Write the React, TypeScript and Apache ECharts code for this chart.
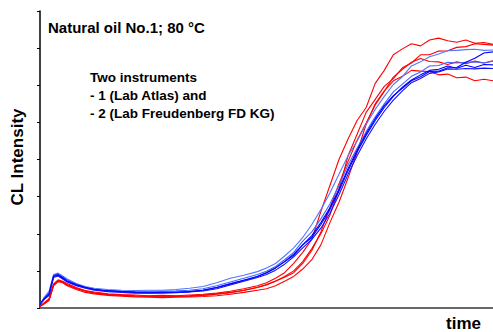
import React, { useEffect, useRef } from "react";
import * as echarts from "echarts";

const time = [0, 1, 2, 3, 4, 5, 6, 8, 10, 12, 15, 18, 21, 24, 27, 30, 33, 36, 39, 42, 45, 48, 50, 52, 54, 56, 58, 60, 62, 64, 66, 68, 70, 72, 74, 76, 78, 80, 82, 84, 86, 88, 90, 92, 94, 96, 98, 100];

const red1 = [0.05, 0.15, 0.25, 0.65, 0.76, 0.72, 0.66, 0.55, 0.47, 0.43, 0.38, 0.36, 0.35, 0.33, 0.34, 0.33, 0.35, 0.37, 0.4, 0.45, 0.52, 0.6, 0.68, 0.8, 0.95, 1.2, 1.5, 1.85, 2.6, 3.3, 4.0, 4.55, 5.05, 5.4, 6.05, 6.4, 6.82, 6.98, 7.12, 7.06, 7.22, 7.27, 7.2, 7.16, 7.22, 7.13, 7.15, 7.1];
const red2 = [0.04, 0.12, 0.22, 0.62, 0.73, 0.7, 0.63, 0.52, 0.45, 0.4, 0.36, 0.34, 0.32, 0.31, 0.3, 0.31, 0.32, 0.34, 0.37, 0.41, 0.47, 0.55, 0.62, 0.72, 0.85, 1.0, 1.25, 1.6, 2.0, 2.5, 3.2, 4.1, 4.68, 5.27, 5.62, 5.97, 6.18, 6.47, 6.6, 6.82, 6.82, 6.92, 6.93, 7.02, 7.04, 7.12, 7.1, 7.08];
const red3 = [0.05, 0.13, 0.23, 0.63, 0.74, 0.7, 0.62, 0.53, 0.46, 0.41, 0.37, 0.35, 0.33, 0.32, 0.32, 0.32, 0.33, 0.35, 0.38, 0.42, 0.48, 0.56, 0.63, 0.73, 0.83, 0.95, 1.2, 1.55, 2.05, 2.7, 3.35, 3.95, 4.52, 4.98, 5.47, 5.83, 6.22, 6.43, 6.62, 6.72, 6.64, 6.63, 6.56, 6.63, 6.58, 6.65, 6.6, 6.66];
const red4 = [0.05, 0.12, 0.2, 0.6, 0.71, 0.68, 0.6, 0.5, 0.42, 0.38, 0.34, 0.32, 0.3, 0.29, 0.28, 0.29, 0.3, 0.31, 0.33, 0.37, 0.42, 0.48, 0.52, 0.6, 0.72, 0.85, 1.05, 1.3, 1.7, 2.3, 2.85, 3.5, 4.2, 4.95, 5.5, 5.85, 6.12, 6.24, 6.4, 6.38, 6.37, 6.28, 6.3, 6.2, 6.22, 6.12, 6.16, 6.12];

const blue1 = [0.1, 0.3, 0.45, 0.9, 0.94, 0.86, 0.78, 0.66, 0.58, 0.53, 0.5, 0.48, 0.47, 0.48, 0.48, 0.5, 0.53, 0.58, 0.68, 0.8, 0.88, 0.98, 1.08, 1.2, 1.4, 1.62, 1.9, 2.25, 2.65, 3.1, 3.6, 4.1, 4.5, 4.95, 5.35, 5.7, 6.02, 6.23, 6.52, 6.63, 6.77, 6.84, 6.93, 6.94, 6.96, 6.97, 6.94, 6.95];
const blue2 = [0.1, 0.28, 0.42, 0.88, 0.92, 0.84, 0.76, 0.64, 0.56, 0.51, 0.47, 0.45, 0.44, 0.44, 0.45, 0.46, 0.48, 0.52, 0.6, 0.7, 0.8, 0.9, 0.99, 1.12, 1.3, 1.5, 1.8, 2.05, 2.4, 2.8, 3.3, 3.85, 4.3, 4.75, 5.15, 5.5, 5.82, 6.03, 6.24, 6.36, 6.52, 6.53, 6.62, 6.6, 6.62, 6.63, 6.6, 6.65];
const blue3 = [0.1, 0.26, 0.38, 0.86, 0.9, 0.82, 0.73, 0.63, 0.55, 0.5, 0.46, 0.44, 0.42, 0.41, 0.42, 0.42, 0.44, 0.48, 0.55, 0.65, 0.75, 0.85, 0.95, 1.08, 1.25, 1.45, 1.7, 1.95, 2.3, 2.7, 3.2, 3.75, 4.25, 4.7, 5.1, 5.45, 5.72, 5.92, 6.12, 6.23, 6.37, 6.38, 6.47, 6.48, 6.62, 6.73, 6.87, 6.9];
const blue4 = [0.1, 0.25, 0.35, 0.85, 0.88, 0.8, 0.72, 0.62, 0.55, 0.5, 0.46, 0.44, 0.42, 0.41, 0.42, 0.42, 0.44, 0.48, 0.55, 0.65, 0.75, 0.85, 0.95, 1.08, 1.25, 1.42, 1.7, 1.9, 2.25, 2.65, 3.15, 3.7, 4.2, 4.65, 5.05, 5.4, 5.7, 5.95, 6.14, 6.28, 6.4, 6.43, 6.52, 6.46, 6.54, 6.48, 6.56, 6.55];
const blue5 = [0.1, 0.24, 0.34, 0.82, 0.86, 0.78, 0.7, 0.6, 0.53, 0.48, 0.44, 0.42, 0.4, 0.4, 0.4, 0.41, 0.43, 0.46, 0.52, 0.62, 0.72, 0.82, 0.9, 1.02, 1.18, 1.38, 1.62, 1.85, 2.15, 2.55, 3.05, 3.6, 4.1, 4.55, 4.95, 5.3, 5.6, 5.85, 6.07, 6.18, 6.32, 6.36, 6.44, 6.43, 6.45, 6.44, 6.46, 6.45];

const seriesDefs: { data: number[]; color: string }[] = [
  { data: red1, color: "#ff0000" },
  { data: red2, color: "#ff0000" },
  { data: red3, color: "#ff0000" },
  { data: red4, color: "#ff0000" },
  { data: blue1, color: "#5577ff" },
  { data: blue2, color: "#4466ff" },
  { data: blue3, color: "#0000ff" },
  { data: blue4, color: "#0000ff" },
  { data: blue5, color: "#1010ff" },
];

const FONT = "'Liberation Sans', Arial, sans-serif";

export default function App() {
  const ref = useRef<HTMLDivElement>(null);
  useEffect(() => {
    if (!ref.current) return;
    const chart = echarts.init(ref.current, undefined, { renderer: "svg" });
    chart.setOption({
      animation: false,
      backgroundColor: "#ffffff",
      grid: { left: 40, top: 11, right: 0, bottom: 24 },
      xAxis: [
        {
          type: "value",
          min: 0,
          max: 100,
          axisLine: { show: true, onZero: false, lineStyle: { color: "#000", width: 1.5 } },
          axisTick: { show: false },
          axisLabel: { show: false },
          splitLine: { show: false },
        },
        {
          type: "value",
          position: "top",
          min: 0,
          max: 100,
          axisLine: { show: true, lineStyle: { color: "#777", width: 1.5 } },
          axisTick: { show: false },
          axisLabel: { show: false },
          splitLine: { show: false },
        },
      ],
      yAxis: {
        type: "value",
        min: 0,
        max: 8,
        interval: 1,
        axisLine: { show: true, lineStyle: { color: "#000", width: 1.5 } },
        axisTick: { show: true, inside: false, length: 3, lineStyle: { color: "#000" } },
        axisLabel: { show: false },
        splitLine: { show: false },
      },
      series: seriesDefs.map((s) => ({
        type: "line",
        data: time.map((t, i) => [t, s.data[i]]),
        showSymbol: false,
        symbol: "none",
        lineStyle: { color: s.color, width: 1.1 },
        itemStyle: { color: s.color },
      })),
      graphic: [
        {
          type: "text",
          left: 48,
          top: 20,
          style: { text: "Natural oil No.1; 80 °C", font: `bold 15px ${FONT}`, fill: "#000" },
        },
        {
          type: "text",
          left: 90,
          top: 68,
          style: {
            text: "Two instruments\n- 1 (Lab Atlas) and\n- 2 (Lab Freudenberg FD KG)",
            font: `bold 13.5px ${FONT}`,
            lineHeight: 18,
            fill: "#000",
          },
        },
        {
          type: "text",
          x: 17,
          y: 157,
          rotation: Math.PI / 2,
          style: {
            text: "CL Intensity",
            font: `bold 17px ${FONT}`,
            fill: "#000",
            align: "center",
            verticalAlign: "middle",
          },
        },
        {
          type: "text",
          left: 446,
          top: 315,
          style: { text: "time", font: `bold 17px ${FONT}`, fill: "#000" },
        },
      ],
    });
    return () => chart.dispose();
  }, []);
  return <div ref={ref} style={{ width: 493, height: 332, position: "absolute", left: 0, top: 0 }} />;
}
